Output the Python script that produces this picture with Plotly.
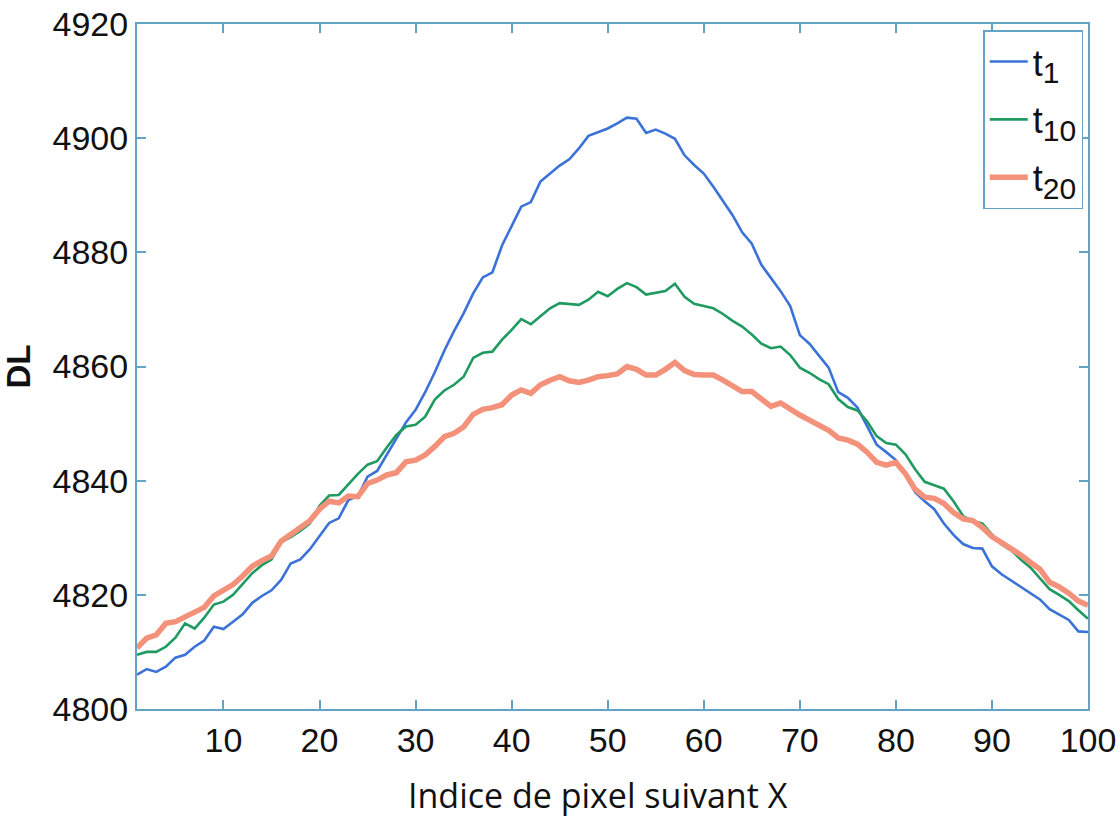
import plotly.graph_objects as go

x_idx = list(range(1, 101))

t1 = [4806.0, 4807.0, 4806.5, 4807.4, 4809.0, 4809.5, 4810.9, 4812.0, 4814.4, 4814.0,
      4815.3, 4816.6, 4818.6, 4819.8, 4820.8, 4822.6, 4825.5, 4826.2, 4828.0, 4830.4,
      4832.6, 4833.4, 4836.6, 4837.3, 4840.7, 4841.7, 4844.6, 4847.5, 4850.2, 4852.4,
      4855.5, 4859.0, 4862.8, 4866.2, 4869.3, 4872.8, 4875.6, 4876.5, 4881.2, 4884.6,
      4888.0, 4888.8, 4892.4, 4893.8, 4895.2, 4896.3, 4898.2, 4900.4, 4901.1, 4901.7,
      4902.6, 4903.6, 4903.4, 4900.9, 4901.5, 4900.8, 4899.9, 4897.0, 4895.3, 4893.8,
      4891.5, 4889.0, 4886.5, 4883.5, 4881.5, 4877.8, 4875.5, 4873.2, 4870.6, 4865.5,
      4864.0, 4862.0, 4859.8, 4855.5, 4854.5, 4852.8, 4849.5, 4846.3, 4845.0, 4843.6,
      4841.0, 4838.0, 4836.4, 4835.0, 4832.5, 4830.5, 4828.9, 4828.2, 4828.1, 4825.0,
      4823.6, 4822.5, 4821.4, 4820.3, 4819.2, 4817.5, 4816.5, 4815.6, 4813.6, 4813.5]

t10 = [4809.5, 4810.0, 4810.0, 4810.9, 4812.5, 4815.0, 4814.1, 4816.0, 4818.3, 4818.8,
       4820.0, 4822.0, 4823.8, 4825.2, 4826.2, 4829.2, 4830.1, 4831.2, 4832.5, 4835.6,
       4837.4, 4837.5, 4839.3, 4841.2, 4842.8, 4843.4, 4845.8, 4848.0, 4849.5, 4849.8,
       4851.2, 4854.2, 4855.8, 4856.8, 4858.2, 4861.5, 4862.4, 4862.6, 4864.7, 4866.4,
       4868.3, 4867.4, 4868.8, 4870.2, 4871.1, 4870.9, 4870.8, 4871.7, 4873.1, 4872.3,
       4873.6, 4874.6, 4873.9, 4872.6, 4872.9, 4873.2, 4874.5, 4872.2, 4871.0, 4870.6,
       4870.2, 4869.2, 4868.0, 4867.0, 4865.6, 4864.0, 4863.2, 4863.5, 4862.0, 4859.8,
       4858.9, 4857.8, 4856.9, 4854.3, 4852.9, 4852.3, 4850.4, 4847.8, 4846.6, 4846.3,
       4844.6, 4842.0, 4839.8, 4839.2, 4838.6, 4836.4, 4833.8, 4832.9, 4832.5, 4830.6,
       4828.8, 4827.8, 4826.2, 4824.8, 4822.8, 4821.0, 4820.0, 4818.9, 4817.3, 4815.8]

t20 = [4810.7, 4812.4, 4813.0, 4815.0, 4815.3, 4816.2, 4817.0, 4817.8, 4819.8, 4820.7,
       4821.8, 4823.3, 4825.0, 4826.0, 4826.8, 4829.4, 4830.6, 4831.8, 4833.0, 4835.0,
       4836.4, 4836.1, 4837.3, 4837.2, 4839.5, 4840.1, 4841.0, 4841.4, 4843.3, 4843.6,
       4844.5, 4846.0, 4847.7, 4848.3, 4849.4, 4851.6, 4852.5, 4852.8, 4853.3, 4855.0,
       4855.9, 4855.3, 4856.8, 4857.6, 4858.2, 4857.5, 4857.2, 4857.6, 4858.2, 4858.4,
       4858.7, 4860.0, 4859.5, 4858.5, 4858.5, 4859.5, 4860.7, 4859.3, 4858.6, 4858.5,
       4858.5, 4857.6, 4856.5, 4855.6, 4855.6, 4854.2, 4853.0, 4853.6, 4852.5, 4851.5,
       4850.6, 4849.8, 4848.8, 4847.5, 4847.1, 4846.4, 4845.0, 4843.2, 4842.7, 4843.2,
       4841.2, 4838.5, 4837.1, 4836.9, 4836.0, 4834.4, 4833.3, 4833.0, 4831.8, 4830.2,
       4829.2, 4828.2, 4827.0, 4825.7, 4824.5, 4822.2, 4821.4, 4820.3, 4818.9, 4818.2]

series_subs = ["1", "10", "20"]
x_ticks = [10, 20, 30, 40, 50, 60, 70, 80, 90, 100]
y_ticks = [4800, 4820, 4840, 4860, 4880, 4900, 4920]
x_title = "Indice de pixel suivant X"
y_title = "DL"

colors = ["#3a72d8", "#1f9a60", "#f4917a"]
widths = [2.6, 2.6, 5.5]

fig = go.Figure()
for i, (ys, sub, c, w) in enumerate(zip([t1, t10, t20], series_subs, colors, widths)):
    name = f't<sub><span style="font-size:30px">{sub}</span></sub>'
    fig.add_trace(go.Scatter(x=x_idx, y=ys, mode="lines", name=name,
                             legendgroup=f"g{i}",
                             line=dict(color=c, width=w)))

axis_color = "#64a3c6"
tick_font = dict(family="Liberation Sans, Arial, sans-serif", size=34, color="#111111")

fig.update_layout(
    width=1120, height=816,
    margin=dict(l=137, r=32, t=24, b=107),
    paper_bgcolor="white", plot_bgcolor="white",
    showlegend=True,
    legend=dict(x=0.995, y=0.991, xanchor="right", yanchor="top",
                bgcolor="white", bordercolor=axis_color, borderwidth=1.5,
                font=dict(family="Liberation Sans, Arial, sans-serif", size=36, color="#111111"),
                itemwidth=38, tracegroupgap=8),
    xaxis=dict(range=[1, 100], tickvals=x_ticks, ticktext=[str(v) for v in x_ticks],
               showgrid=False, zeroline=False, automargin=False,
               showline=True, linecolor=axis_color, linewidth=2, mirror="allticks",
               ticks="inside", ticklen=9, tickcolor=axis_color, tickwidth=1.5,
               tickfont=tick_font, ticklabelstandoff=0),
    yaxis=dict(range=[4800, 4920], tickvals=y_ticks, ticktext=[str(v) for v in y_ticks],
               showgrid=False, zeroline=False, automargin=False,
               showline=True, linecolor=axis_color, linewidth=2, mirror="allticks",
               ticks="inside", ticklen=9, tickcolor=axis_color, tickwidth=1.5,
               tickfont=tick_font,
               title=dict(text=f"<b>{y_title}</b>",
                          font=dict(family="Liberation Sans, Arial, sans-serif", size=33, color="#111111"),
                          standoff=18)),
    annotations=[dict(text=x_title, xref="paper", yref="paper", x=0.485, y=-0.126,
                      xanchor="center", yanchor="middle", showarrow=False,
                      font=dict(family="Open Sans, sans-serif", size=34, color="#111111"))],
)

fig.write_html("out.html", config={"displayModeBar": False},
               post_script="document.body.style.margin='0';document.body.style.overflow='hidden';")
